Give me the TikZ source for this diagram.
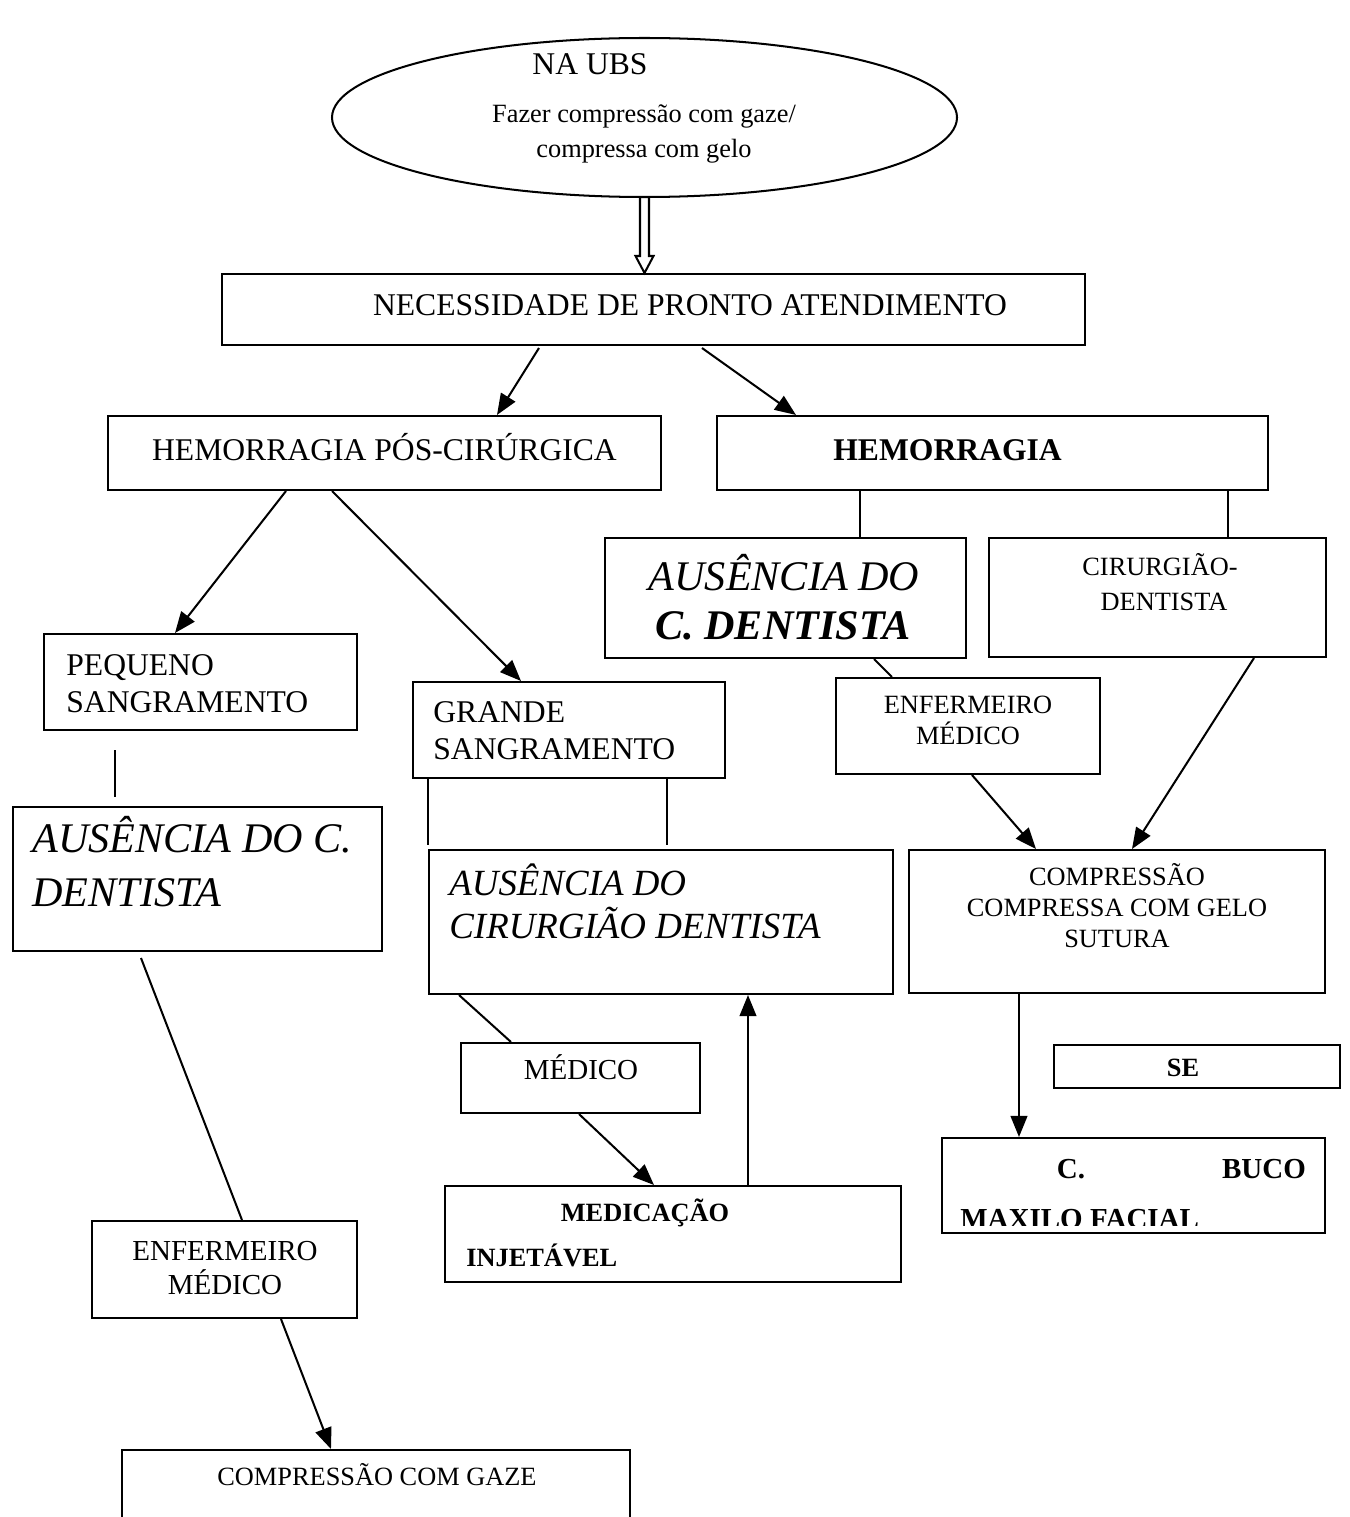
\documentclass[tikz,border=0pt]{standalone}
\usepackage{fontspec}
\setmainfont{Liberation Serif}
\usetikzlibrary{arrows.meta,fit,calc,shapes.geometric}
\newcommand\myfs[1]{\fontsize{#1}{#1}\selectfont}
\begin{document}
\begin{tikzpicture}[x=0.02cm,y=-0.02cm,
  lw/.style={line width=1.15pt},
  bx/.style={draw,lw,rectangle,inner sep=0pt,fit={#1}},
  ar/.style={lw,-{Triangle[length=12pt,width=9.5pt]}},
  tc/.style={inner sep=0pt,anchor=base},
  tl/.style={inner sep=0pt,anchor=base west},
  fa/.style={font=\myfs{18}},
  fb/.style={font=\myfs{15}},
  fc/.style={font=\myfs{16.5}},
  fi/.style={font=\myfs{24}\itshape},
  fm/.style={font=\myfs{21}\itshape}]
\clip (0,0) rectangle (1349,1517);
\fill[white] (0,0) rectangle (1349,1517);

% ---- boxes ----
\node[draw,lw,ellipse,inner sep=0pt,minimum width=625*0.02cm,minimum height=159*0.02cm] (ubs) at (644.5,117.5) {};
\node[bx={(222,274) (1085,345)}] (nec) {};
\node[bx={(108,416) (661,490)}] (hpc) {};
\node[bx={(717,416) (1268,490)}] (hem) {};
\node[bx={(605,538) (966,658)}] (ausR) {};
\node[bx={(989,538) (1326,657)}] (cir) {};
\node[bx={(44,634) (357,730)}] (peq) {};
\node[bx={(413,682) (725,778)}] (gra) {};
\node[bx={(836,678) (1100,774)}] (enfR) {};
\node[bx={(13,807) (382,951)}] (ausL) {};
\node[bx={(429,850) (893,994)}] (ausM) {};
\node[bx={(909,850) (1325,993)}] (comp) {};
\node[bx={(461,1043) (700,1113)}] (med) {};
\node[bx={(1054,1045) (1340,1088)}] (se) {};
\node[bx={(942,1138) (1325,1233)}] (buco) {};
\node[bx={(445,1186) (901,1282)}] (medic) {};
\node[bx={(92,1221) (357,1318)}] (enfL) {};
\node[bx={(122,1450) (630,1560)}] (gaze) {};

% ---- texts ----
\node[tc,fa] (t1) at (590,75) {NA UBS};
\node[tc,fb] (t2) at (644,123) {Fazer compressão com gaze/};
\node[tc,fb] (t3) at (644,158) {compressa com gelo};
\node[tc,fa] (t4) at (690,315) {NECESSIDADE DE PRONTO ATENDIMENTO};
\node[tc,fa] (t5) at (384.5,460) {HEMORRAGIA PÓS-CIRÚRGICA};
\node[tl,font=\myfs{18}\bfseries] (t6) at (833,460) {HEMORRAGIA};
\node[tc,fi] (t7) at (784,590) {AUSÊNCIA DO};
\node[tc,font=\myfs{24}\bfseries\itshape] (t8) at (783,639) {C. DENTISTA};
\node[tc,fb] (t9) at (1160,575) {CIRURGIÃO-};
\node[tc,fb] (t10) at (1164,610) {DENTISTA};
\node[tl,fa] (t11) at (66,675) {PEQUENO};
\node[tl,fa] (t12) at (66,712) {SANGRAMENTO};
\node[tl,fa] (t13) at (433,722) {GRANDE};
\node[tl,fa] (t14) at (433,759) {SANGRAMENTO};
\node[tc,fb] (t15) at (968,713) {ENFERMEIRO};
\node[tc,fb] (t16) at (968,744) {MÉDICO};
\node[tl,fi] (t17) at (32,852) {AUSÊNCIA DO C.};
\node[tl,fi] (t18) at (32,906) {DENTISTA};
\node[tl,fm] (t19) at (449,895) {AUSÊNCIA DO};
\node[tl,fm] (t20) at (449,938) {CIRURGIÃO DENTISTA};
\node[tc,fb] (t21) at (1117,885) {COMPRESSÃO};
\node[tc,fb] (t22) at (1117,916) {COMPRESSA COM GELO};
\node[tc,fb] (t23) at (1117,947) {SUTURA};
\node[tc,font=\myfs{15}\bfseries] (t24) at (1183,1076) {SE};
\node[tc,fc] (t25) at (581,1079) {MÉDICO};
\node[tc,font=\myfs{16.5}\bfseries] (t26) at (1071,1178) {C.};
\node[tc,font=\myfs{16.5}\bfseries] (t27) at (1264,1178) {BUCO};
\begin{scope}
\clip (942,1138) rectangle (1325,1225);
\node[tl,font=\myfs{16.5}\bfseries] (t28) at (960,1228) {MAXILO FACIAL};
\end{scope}
\node[tc,font=\myfs{15}\bfseries] (t29) at (645,1221) {MEDICAÇÃO};
\node[tl,font=\myfs{15}\bfseries] (t30) at (466,1266) {INJETÁVEL};
\node[tc,fc] (t31) at (225,1260) {ENFERMEIRO};
\node[tc,fc] (t32) at (225,1294) {MÉDICO};
\node[tc,fb] (t33) at (377,1485) {COMPRESSÃO COM GAZE};

% ---- double arrow ----
\coordinate (dt) at (ubs.south);
\coordinate (db) at (ubs.south |- nec.north);
\draw[lw,line join=miter] ($(dt)+(-4.5,0)$) -- ($(db)+(-4.5,-17)$) -- ($(db)+(-9,-17)$) -- (db)
  -- ($(db)+(9,-17)$) -- ($(db)+(4.5,-17)$) -- ($(dt)+(4.5,0)$);

% ---- connectors ----
\draw[ar] ($(nec.south west)+(318,2)$) -- ($(hpc.north west)+(390,0)$);
\draw[ar] ($(nec.south west)+(481,2)$) -- ($(hem.north west)+(80,0)$);
\draw[ar] ($(hpc.south west)+(179,0)$) -- ($(peq.north west)+(132,0)$);
\draw[ar] ($(hpc.south west)+(225,0)$) -- ($(gra.north west)+(109,0)$);
\draw[lw] ($(peq.south west)+(72,19)$) -- ($(ausL.north west)+(103,-9)$);
\draw[lw] ($(ausL.south west)+(129,6)$) -- ($(enfL.north west)+(151,0)$);
\draw[ar] ($(enfL.south west)+(190,0)$) -- ($(gaze.north west)+(210,0)$);
\draw[lw] ($(hem.south west)+(144,0)$) -- ($(ausR.north west)+(256,0)$);
\draw[lw] ($(hem.south west)+(512,0)$) -- ($(cir.north west)+(240,0)$);
\draw[lw] ($(ausR.south west)+(270,0)$) -- ($(enfR.north west)+(57,0)$);
\draw[ar] ($(enfR.south west)+(137,0)$) -- ($(comp.north west)+(128,0)$);
\draw[ar] ($(cir.south west)+(266,0)$) -- ($(comp.north west)+(224,0)$);
\draw[ar] ($(comp.south west)+(111,0)$) -- ($(buco.north west)+(78,0)$);
\draw[lw] ($(gra.south west)+(16,0)$) -- ($(ausM.north west)+(0,-4)$);
\draw[lw] ($(gra.south west)+(255,0)$) -- ($(ausM.north west)+(239,-4)$);
\draw[lw] ($(ausM.south west)+(31,0)$) -- ($(med.north west)+(51,0)$);
\draw[ar] ($(med.south west)+(119,0)$) -- ($(medic.north west)+(210,0)$);
\draw[ar] ($(medic.north west)+(304,0)$) -- ($(ausM.south west)+(320,0)$);
\end{tikzpicture}
\end{document}
